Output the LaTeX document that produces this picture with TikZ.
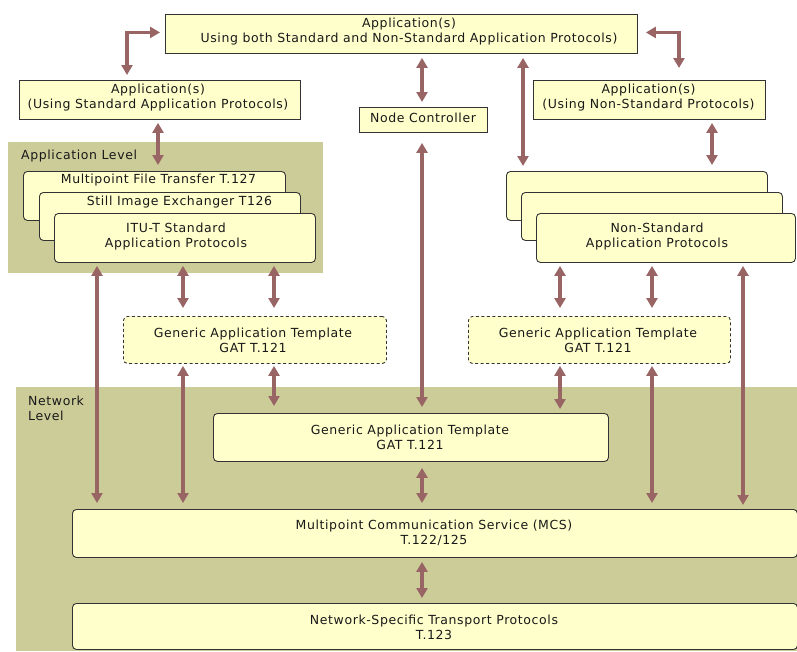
\documentclass[tikz,border=0pt]{standalone}
\usepackage{fontspec}
\setmainfont{DejaVu Sans}[LetterSpace=4.8]
\usetikzlibrary{arrows.meta}

\definecolor{boxfill}{HTML}{FFFFCC}
\definecolor{boxline}{HTML}{333333}
\definecolor{levelbg}{HTML}{CCCC99}
\definecolor{arrowc}{HTML}{996464}

\tikzset{
  txt/.style={font=\fontsize{12.5}{15}\selectfont, align=center, inner sep=0pt, text=black!90},
  plainbox/.style={draw=boxline, fill=boxfill, line width=0.9pt, inner sep=0pt, anchor=north west},
  roundbox/.style={plainbox, rounded corners=4pt},
  dashbox/.style={roundbox, dashed, dash pattern=on 3pt off 2.5pt},
  levelbox/.style={fill=levelbg, draw=none, inner sep=0pt, anchor=north west},
  arr/.style={draw=arrowc, line width=3.2pt,
    {Triangle[width=11pt,length=10pt]}-{Triangle[width=11pt,length=10pt]},
    shorten <=4pt, shorten >=5pt},
}

\begin{document}
\begin{tikzpicture}[x=1pt, y=-1pt]
\useasboundingbox (0,0) rectangle (797,651);

% level backgrounds
\node[levelbox, minimum width=315, minimum height=131] (applevel) at (8,142) {};
\node[levelbox, minimum width=781, minimum height=264] (netlevel) at (16,387) {};
\node[txt, anchor=west] (applevellbl) at (21,156) {Application Level};
\node[txt, anchor=north west, align=left] (netlevellbl) at (28,396) {Network\\Level};

% applications on top
\node[plainbox, minimum width=472, minimum height=39] (top) at (165,14) {};
\node[txt] (toptxt) at (409,32) {Application(s)\\Using both Standard and Non-Standard Application Protocols)};
\node[plainbox, minimum width=281, minimum height=39] (appstd) at (19,80) {};
\node[txt] (appstdtxt) at (158,98) {Application(s)\\(Using Standard Application Protocols)};
\node[plainbox, minimum width=232, minimum height=39] (appns) at (533,80) {};
\node[txt] (appnstxt) at (648.5,98) {Application(s)\\(Using Non-Standard Protocols)};
\node[plainbox, minimum width=128, minimum height=25] (nc) at (359,107) {};
\node[txt] (nctxt) at (423,118) {Node Controller};

% standard application protocols (stacked)
\node[roundbox, minimum width=262, minimum height=49] (s1) at (23,171) {};
\node[txt] (s1txt) at (158.5,180) {Multipoint File Transfer T.127};
\node[roundbox, minimum width=261, minimum height=48] (s2) at (39,192) {};
\node[txt] (s2txt) at (179.5,202) {Still Image Exchanger T126};
\node[roundbox, minimum width=261, minimum height=49] (s3) at (54,213) {};
\node[txt] (s3txt) at (176,237) {ITU-T Standard\\Application Protocols};

% non-standard application protocols (stacked)
\node[roundbox, minimum width=261, minimum height=49] (r1) at (506,171) {};
\node[roundbox, minimum width=261, minimum height=48] (r2) at (521,192) {};
\node[roundbox, minimum width=259, minimum height=49] (r3) at (536,213) {};
\node[txt] (r3txt) at (657,237) {Non-Standard\\Application Protocols};

% generic application templates
\node[dashbox, minimum width=263, minimum height=47] (gatL) at (123,316) {};
\node[txt] (gatLtxt) at (253,340) {Generic Application Template\\GAT T.121};
\node[dashbox, minimum width=262, minimum height=47] (gatR) at (468,316) {};
\node[txt] (gatRtxt) at (598,340) {Generic Application Template\\GAT T.121};
\node[roundbox, minimum width=395, minimum height=48] (gatM) at (213,413) {};
\node[txt] (gatMtxt) at (410,437) {Generic Application Template\\GAT T.121};

% network services
\node[roundbox, minimum width=725, minimum height=48] (mcs) at (72,509) {};
\node[txt] (mcstxt) at (434,533) {Multipoint Communication Service (MCS)\\T.122/125};
\node[roundbox, minimum width=725, minimum height=46] (ns) at (72,603) {};
\node[txt] (nstxt) at (434,627.5) {Network-Specific Transport Protocols\\T.123};

% connector columns
\coordinate (c97) at (97,0);
\coordinate (c127) at (127,0);
\coordinate (c158) at (158,0);
\coordinate (c183) at (183,0);
\coordinate (c274) at (274,0);
\coordinate (c422) at (422,0);
\coordinate (c523) at (523,0);
\coordinate (c560) at (560,0);
\coordinate (c652) at (652,0);
\coordinate (c679) at (679,0);
\coordinate (c712) at (712,0);
\coordinate (c743) at (743,0);

% connectors
\draw[arr, shorten <=5pt] (appstd.north -| c127) |- ([yshift=1.5pt]top.west);
\draw[arr, shorten <=8pt, shorten >=12pt] ([yshift=1.5pt]top.east) -| (appns.north -| c679);
\draw[arr] (top.south -| c422) -- (nc.north -| c422);
\draw[arr] (top.south -| c523) -- (r1.north -| c523);
\draw[arr, shorten <=3pt, shorten >=6pt] (appstd.south -| c158) -- (s1.north -| c158);
\draw[arr, shorten <=3pt, shorten >=6pt] (appns.south -| c712) -- (r1.north -| c712);
\draw[arr, shorten <=10pt, shorten >=6pt] (nc.south -| c422) -- (gatM.north -| c422);

\draw[arr, shorten <=3pt, shorten >=6pt] (s3.south -| c97) -- (mcs.north -| c97);
\draw[arr, shorten <=3pt, shorten >=8pt] (s3.south -| c183) -- (gatL.north -| c183);
\draw[arr, shorten <=3pt, shorten >=8pt] (s3.south -| c274) -- (gatL.north -| c274);
\draw[arr, shorten <=2pt, shorten >=6pt] (gatL.south -| c183) -- (mcs.north -| c183);
\draw[arr, shorten <=2pt, shorten >=7pt] (gatL.south -| c274) -- (gatM.north -| c274);

\draw[arr, shorten <=3pt, shorten >=8pt] (r3.south -| c560) -- (gatR.north -| c560);
\draw[arr, shorten <=3pt, shorten >=8pt] (r3.south -| c652) -- (gatR.north -| c652);
\draw[arr, shorten <=2pt, shorten >=4pt] (gatR.south -| c560) -- (gatM.north -| c560);
\draw[arr, shorten <=2pt, shorten >=6pt] (gatR.south -| c652) -- (mcs.north -| c652);
\draw[arr, shorten <=3pt, shorten >=4pt] (r3.south -| c743) -- (mcs.north -| c743);

\draw[arr, shorten <=6pt, shorten >=6pt] (gatM.south -| c422) -- (mcs.north -| c422);
\draw[arr] (mcs.south -| c422) -- (ns.north -| c422);
\end{tikzpicture}
\end{document}
